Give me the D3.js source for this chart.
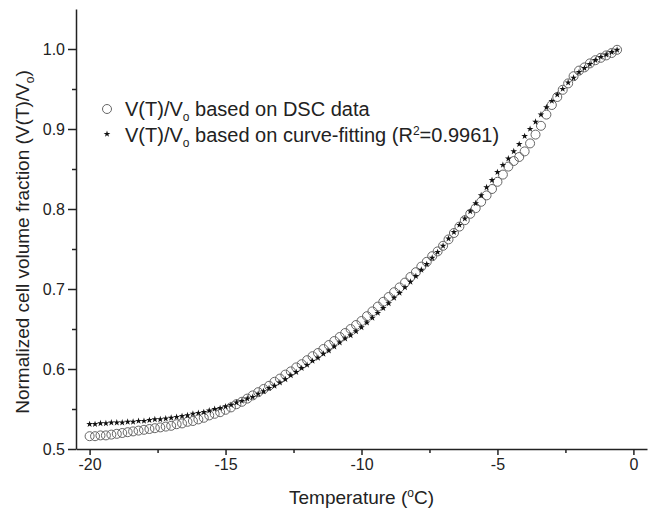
<!DOCTYPE html>
<html lang='en'>
    <head>
        <meta charset="utf-8">
        <title>Normalized cell volume fraction</title>
        <script src="https://d3js.org/d3.v7.min.js"></script>
        <style>
            body {
                margin: 0;
                background-color: white;
            }
            svg {
                width: 650px;
                height: 510px;
                font-family: "Liberation Sans", Arial, sans-serif;
            }
            .tick text {
                fill: #222;
            }
        </style>
    </head>
    <body>
        <svg id="chart_svg"></svg>
    </body>

    <script>
        // temperature (degC) of every point, shared by both series
        const temps = [
            -20.0,-19.8,-19.6,-19.4,-19.2,-19.0,-18.8,-18.6,-18.4,-18.2,-18.0,-17.8,-17.6,-17.4,-17.2,-17.0,
            -16.8,-16.6,-16.4,-16.2,-16.0,-15.8,-15.6,-15.4,-15.2,-15.0,-14.8,-14.6,-14.4,-14.2,-14.0,
            -13.8,-13.6,-13.4,-13.2,-13.0,-12.8,-12.6,-12.4,-12.2,-12.0,-11.8,-11.6,-11.4,-11.2,-11.0,
            -10.8,-10.6,-10.4,-10.2,-10.0,-9.8,-9.6,-9.4,-9.2,-9.0,-8.8,-8.6,-8.4,-8.2,-8.0,
            -7.8,-7.6,-7.4,-7.2,-7.0,-6.8,-6.6,-6.4,-6.2,-6.0,-5.8,-5.6,-5.4,-5.2,-5.0,
            -4.8,-4.6,-4.4,-4.2,-4.0,-3.8,-3.6,-3.4,-3.2,-3.0,-2.8,-2.6,-2.4,-2.2,-2.0,
            -1.8,-1.6,-1.4,-1.2,-1.0,-0.8,-0.6
        ];

        // V(T)/Vo from the DSC data (open circles)
        const dscValues = [
            0.516,
            0.516,0.517,0.517,0.518,0.519,
            0.520,0.521,0.522,0.523,0.524,
            0.525,0.526,0.527,0.528,0.529,
            0.531,0.532,0.534,0.535,0.537,
            0.539,0.542,0.544,0.546,0.549,
            0.552,0.556,0.559,0.563,0.567,
            0.571,0.575,0.579,0.584,0.588,
            0.593,0.597,0.602,0.606,0.611,
            0.616,0.620,0.625,0.630,0.635,
            0.640,0.645,0.650,0.655,0.660,
            0.666,0.672,0.678,0.684,0.690,
            0.696,0.702,0.708,0.715,0.721,
            0.728,0.734,0.741,0.747,0.754,
            0.762,0.770,0.778,0.786,0.794,
            0.801,0.809,0.817,0.825,0.834,
            0.843,0.853,0.860,0.865,0.872,
            0.882,0.893,0.904,0.918,0.930,
            0.940,0.949,0.957,0.966,0.973,
            0.977,0.982,0.986,0.989,0.992,
            0.995,0.999
        ];

        // V(T)/Vo from the curve fit (stars)
        const fitValues = [
            0.531,
            0.531,0.532,0.532,0.533,0.533,
            0.533,0.534,0.534,0.535,0.535,
            0.536,0.537,0.537,0.538,0.539,
            0.540,0.541,0.542,0.544,0.545,
            0.546,0.548,0.550,0.551,0.553,
            0.555,0.558,0.560,0.563,0.565,
            0.569,0.572,0.576,0.579,0.583,
            0.587,0.592,0.596,0.601,0.605,
            0.610,0.614,0.619,0.623,0.628,
            0.633,0.638,0.642,0.647,0.652,
            0.658,0.664,0.670,0.676,0.682,
            0.689,0.695,0.702,0.709,0.716,
            0.724,0.731,0.739,0.746,0.754,
            0.763,0.771,0.780,0.788,0.797,
            0.807,0.817,0.827,0.836,0.846,
            0.855,0.863,0.872,0.881,0.891,
            0.900,0.909,0.918,0.927,0.935,
            0.943,0.950,0.958,0.964,0.971,
            0.976,0.981,0.986,0.990,0.993,
            0.996,0.999
        ];

        // axis ticks
        const xMajorTicks = [-20, -15, -10, -5, 0];
        const xMinorTicks = [-17.5, -12.5, -7.5, -2.5];
        const yMajorTicks = [0.5, 0.6, 0.7, 0.8, 0.9, 1.0];
        const yMinorTicks = [0.55, 0.65, 0.75, 0.85, 0.95];

        const svg = d3.select('#chart_svg');
        const margin = {top: 9, right: 3, bottom: 61, left: 76};
        const width = 650 - margin.left - margin.right;
        const height = 510 - margin.top - margin.bottom;

        const g = svg.append('g').attr('transform', `translate(${margin.left},${margin.top})`);

        const x_scale = d3.scaleLinear().domain([-20.5, 0.5]).range([0, width]);
        const y_scale = d3.scaleLinear().domain([0.5, 1.05]).range([height, 0]);

        // x axis, major then minor ticks (plain hyphen for the minus sign)
        g.append('g')
            .attr('transform', `translate(0,${height})`)
            .call(d3.axisBottom(x_scale).tickValues(xMajorTicks).tickFormat(d => String(d))
                .tickSize(6).tickSizeOuter(0).tickPadding(4));
        g.append('g')
            .attr('transform', `translate(0,${height})`)
            .call(d3.axisBottom(x_scale).tickValues(xMinorTicks).tickFormat('').tickSize(4))
            .select('.domain').remove();

        // y axis
        g.append('g')
            .call(d3.axisLeft(y_scale).tickValues(yMajorTicks).tickFormat(d => d.toFixed(1))
                .tickSize(8).tickSizeOuter(0).tickPadding(3));
        g.append('g')
            .call(d3.axisLeft(y_scale).tickValues(yMinorTicks).tickFormat('').tickSize(4))
            .select('.domain').remove();

        g.selectAll('.domain, .tick line').attr('stroke', '#222').attr('stroke-width', 1.5);
        g.selectAll('.tick text').style('font-size', '16px').style('font-family', '"Liberation Sans", Arial, sans-serif');

        // DSC circles
        const points = temps.map((t, i) => ({t: t, dsc: dscValues[i], fit: fitValues[i]}));

        g.append('g').selectAll('circle')
            .data(points)
            .join('circle')
            .attr('cx', d => x_scale(d.t))
            .attr('cy', d => y_scale(d.dsc))
            .attr('r', 4.5)
            .attr('fill', 'none')
            .attr('stroke', '#666')
            .attr('stroke-width', 1);

        // fitted stars on top
        const star = d3.symbol().type(d3.symbolStar).size(14);
        g.append('g').selectAll('path')
            .data(points)
            .join('path')
            .attr('d', star)
            .attr('transform', d => `translate(${x_scale(d.t)},${y_scale(d.fit)})`)
            .attr('fill', '#111');

        // legend
        const legend = svg.append('g').style('font-size', '20px').attr('fill', '#222');
        legend.append('circle').attr('cx', 107).attr('cy', 109).attr('r', 4.5)
            .attr('fill', 'none').attr('stroke', '#666').attr('stroke-width', 1);
        legend.append('path').attr('d', star).attr('transform', 'translate(107,134)').attr('fill', '#111');

        const l1 = legend.append('text').attr('x', 125).attr('y', 116);
        l1.append('tspan').text('V(T)/V');
        l1.append('tspan').attr('dy', 5).style('font-size', '12px').text('o');
        l1.append('tspan').attr('dy', -5).text(' based on DSC data');

        const l2 = legend.append('text').attr('x', 125).attr('y', 142);
        l2.append('tspan').text('V(T)/V');
        l2.append('tspan').attr('dy', 5).style('font-size', '12px').text('o');
        l2.append('tspan').attr('dy', -5).text(' based on curve-fitting (R');
        l2.append('tspan').attr('dy', -7).style('font-size', '12px').text('2');
        l2.append('tspan').attr('dy', 7).text('=0.9961)');

        // axis titles
        const xt = svg.append('text')
            .attr('x', margin.left + x_scale(-10)).attr('y', 504)
            .attr('text-anchor', 'middle').attr('fill', '#222').style('font-size', '19px');
        xt.append('tspan').text('Temperature (');
        xt.append('tspan').attr('dy', -7).style('font-size', '12px').text('o');
        xt.append('tspan').attr('dy', 7).text('C)');

        const yt = svg.append('text')
            .attr('transform', 'translate(29,242) rotate(-90)')
            .attr('text-anchor', 'middle').attr('fill', '#222').style('font-size', '19px');
        yt.append('tspan').text('Normalized cell volume fraction (V(T)/V');
        yt.append('tspan').attr('dy', 5).style('font-size', '12px').text('o');
        yt.append('tspan').attr('dy', -5).text(')');
    </script>
</html>
